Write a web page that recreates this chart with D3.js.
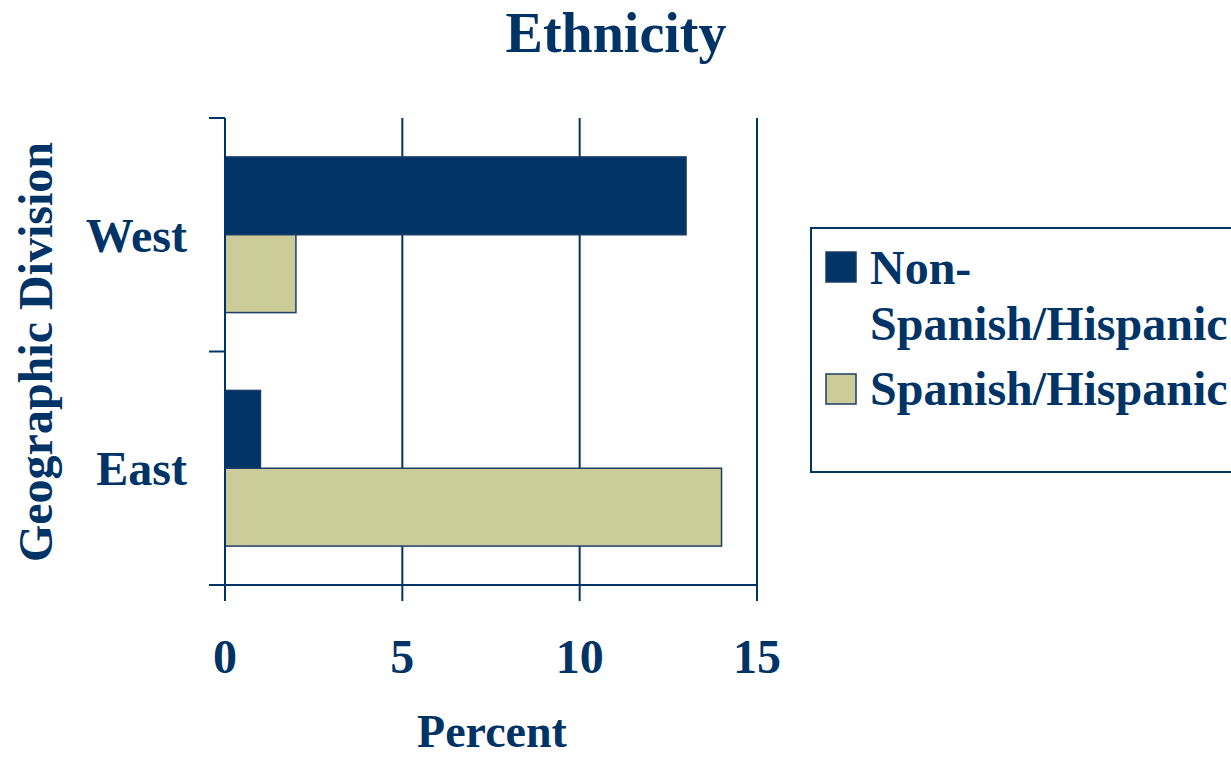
<!DOCTYPE html>
<html>
<head>
<meta charset="utf-8">
<script src="https://cdn.jsdelivr.net/npm/d3@7"></script>
<style>
  html, body { margin: 0; padding: 0; background: #ffffff; overflow: hidden; }
  svg { display: block; }
  text { font-family: "Liberation Serif", "Times New Roman", serif; font-weight: bold; fill: #003366; }
</style>
</head>
<body>
<svg id="chart" width="1231" height="758"></svg>
<script>
// ---- data ----
const categories = ["West", "East"];
const series = ["Non-Spanish/Hispanic", "Spanish/Hispanic"];
const nonHispanic = [13, 1];
const hispanic = [2, 14];
const xTicks = [0, 5, 10, 15];
const legendLines = [["Non-", "Spanish/Hispanic"], ["Spanish/Hispanic"]];
const titleText = "Ethnicity";
const xTitle = "Percent";
const yTitle = "Geographic Division";

const navy = "#003366";
const colors = ["#003366", "#cccc99"];

const svg = d3.select("#chart");

const x = d3.scaleLinear().domain([0, 15]).range([225, 757]);
const y = d3.scaleBand().domain(categories).range([118, 585]).paddingInner(1 / 3).paddingOuter(1 / 6);
const ySub = d3.scaleBand().domain(series).range([0, y.bandwidth()]);

const table = categories.map((c, i) => ({ cat: c, values: [nonHispanic[i], hispanic[i]] }));

// title
svg.append("text").attr("x", 616).attr("y", 52).attr("text-anchor", "middle")
  .style("font-size", "56px").text(titleText);

// gridlines (vertical) extending below axis as ticks
svg.append("g").selectAll("line").data(xTicks).join("line")
  .attr("x1", d => x(d)).attr("x2", d => x(d))
  .attr("y1", 118).attr("y2", 601)
  .attr("stroke", navy).attr("stroke-width", 2);

// bars
const groups = svg.append("g").selectAll("g").data(table).join("g")
  .attr("transform", d => `translate(0,${y(d.cat)})`);
groups.selectAll("rect").data(d => d.values.map((v, j) => ({ v, s: series[j], j }))).join("rect")
  .attr("x", x(0))
  .attr("y", d => ySub(d.s))
  .attr("width", d => x(d.v) - x(0))
  .attr("height", ySub.bandwidth())
  .attr("fill", d => colors[d.j])
  .attr("stroke", "#1d3c66").attr("stroke-width", 1.5);

// left axis line and ticks
const yTickPos = [118, (y("West") + y.bandwidth() + y("East")) / 2, 585];
svg.append("line").attr("x1", x(0)).attr("x2", x(0)).attr("y1", 118).attr("y2", 601)
  .attr("stroke", navy).attr("stroke-width", 2);
svg.append("g").selectAll("line").data(yTickPos).join("line")
  .attr("x1", 209).attr("x2", x(0)).attr("y1", d => d).attr("y2", d => d)
  .attr("stroke", navy).attr("stroke-width", 2);
// bottom axis line
svg.append("line").attr("x1", 209).attr("x2", x(15)).attr("y1", 585).attr("y2", 585)
  .attr("stroke", navy).attr("stroke-width", 2);

// x tick labels
svg.append("g").selectAll("text").data(xTicks).join("text")
  .attr("text-anchor", "middle").style("font-size", "48px")
  .attr("x", d => x(d)).attr("y", 673)
  .text(d => d);

// category labels
svg.append("g").selectAll("text").data(categories).join("text")
  .attr("text-anchor", "end").style("font-size", "48px")
  .attr("x", 187).attr("y", d => y(d) + y.bandwidth() / 2 + 17)
  .text(d => d);

// x title
svg.append("text").attr("text-anchor", "middle").style("font-size", "46px")
  .attr("x", 492).attr("y", 747).text(xTitle);

// y title
svg.append("text").attr("text-anchor", "middle").style("font-size", "48px")
  .attr("transform", "translate(52,352) rotate(-90)").text(yTitle);

// legend
svg.append("rect").attr("x", 811).attr("y", 228).attr("width", 500).attr("height", 244)
  .attr("fill", "#ffffff").attr("stroke", navy).attr("stroke-width", 2);
const swatchY = [252, 374];
const textY = [284, 405];
series.forEach((s, i) => {
  svg.append("rect").attr("x", 826).attr("y", swatchY[i]).attr("width", 30).attr("height", 30)
    .attr("fill", colors[i]).attr("stroke", "#1d3c66").attr("stroke-width", 1.5);
  const t = svg.append("text").attr("x", 870).attr("y", textY[i]).style("font-size", "48px");
  legendLines[i].forEach((ln, k) => {
    t.append("tspan").attr("x", 870).attr("dy", k === 0 ? 0 : 56).text(ln);
  });
});
</script>
</body>
</html>
